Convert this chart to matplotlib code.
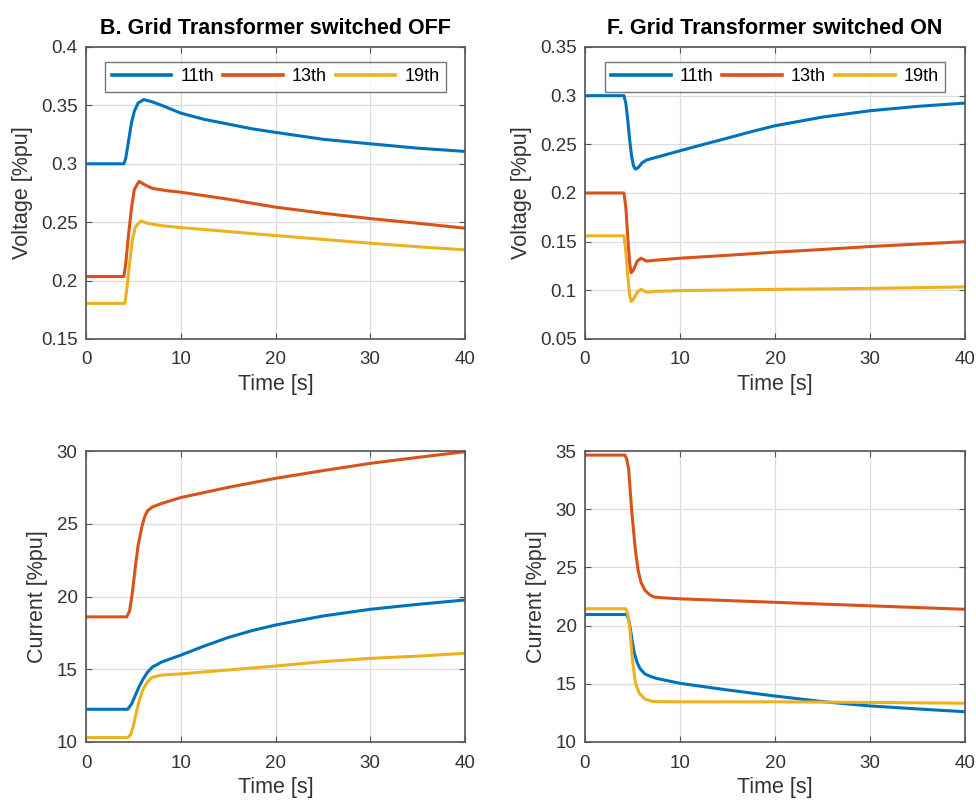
import matplotlib
matplotlib.use("Agg")
import matplotlib.pyplot as plt
from matplotlib.ticker import FuncFormatter, MultipleLocator

plt.rcParams['font.family'] = ['Liberation Sans', 'DejaVu Sans']

C11, C13, C19 = '#0072BD', '#D95319', '#EDB120'
labels = ['11th', '13th', '19th']

# ---- Panel B: voltage, transformer OFF ----
vb_t11 = [0, 4.0, 4.2, 4.5, 4.8, 5.1, 5.5, 6.1, 7, 8, 10, 12.5, 15, 17.5, 20, 25, 30, 35, 40]
vb_v11 = [0.300, 0.300, 0.305, 0.320, 0.335, 0.345, 0.352, 0.355, 0.353, 0.350, 0.3434, 0.338, 0.334, 0.330, 0.3269, 0.321, 0.3171, 0.3134, 0.3106]
vb_t13 = [0, 4.0, 4.2, 4.5, 4.8, 5.1, 5.6, 6.2, 7, 8.5, 10, 15, 20, 25, 30, 35, 40]
vb_v13 = [0.2035, 0.2035, 0.215, 0.240, 0.262, 0.278, 0.285, 0.282, 0.279, 0.277, 0.2757, 0.2697, 0.2629, 0.2577, 0.2531, 0.2491, 0.2449]
vb_t19 = [0, 4.1, 4.3, 4.6, 4.9, 5.2, 5.8, 6.5, 8, 10, 15, 20, 25, 30, 35, 40]
vb_v19 = [0.1805, 0.1805, 0.192, 0.215, 0.235, 0.246, 0.251, 0.249, 0.247, 0.2454, 0.242, 0.2386, 0.2353, 0.232, 0.229, 0.2263]

# ---- Panel F: voltage, transformer ON ----
vf_t11 = [0, 4.1, 4.3, 4.5, 4.7, 4.9, 5.1, 5.3, 5.6, 6.0, 6.5, 8, 10, 12.5, 15, 17.5, 20, 25, 30, 35, 40]
vf_v11 = [0.300, 0.300, 0.292, 0.275, 0.255, 0.238, 0.228, 0.2245, 0.226, 0.231, 0.234, 0.238, 0.2434, 0.250, 0.2564, 0.263, 0.2691, 0.278, 0.2845, 0.289, 0.2924]
vf_t13 = [0, 4.1, 4.3, 4.5, 4.7, 4.85, 5.1, 5.5, 5.9, 6.5, 7.5, 10, 15, 20, 25, 30, 35, 40]
vf_v13 = [0.200, 0.200, 0.185, 0.155, 0.128, 0.118, 0.121, 0.130, 0.133, 0.130, 0.131, 0.133, 0.136, 0.1392, 0.142, 0.145, 0.1475, 0.150]
vf_t19 = [0, 4.1, 4.3, 4.5, 4.7, 4.85, 5.1, 5.5, 5.9, 6.5, 7.5, 10, 20, 30, 40]
vf_v19 = [0.156, 0.156, 0.140, 0.115, 0.095, 0.0885, 0.091, 0.098, 0.101, 0.098, 0.099, 0.0997, 0.101, 0.102, 0.1035]

# ---- Current, transformer OFF ----
cb_t11 = [0, 4.4, 4.8, 5.2, 5.6, 6.0, 6.5, 7.0, 8, 10, 12.5, 15, 17.5, 20, 25, 30, 35, 40]
cb_v11 = [12.25, 12.25, 12.6, 13.2, 13.8, 14.3, 14.8, 15.15, 15.5, 15.97, 16.6, 17.18, 17.65, 18.04, 18.66, 19.12, 19.46, 19.76]
cb_t13 = [0, 4.3, 4.6, 4.9, 5.2, 5.5, 5.9, 6.2, 6.5, 7.0, 8, 10, 15, 20, 25, 30, 35, 40]
cb_v13 = [18.6, 18.6, 19.0, 20.3, 22.0, 23.5, 24.8, 25.5, 25.9, 26.15, 26.4, 26.8, 27.5, 28.12, 28.65, 29.15, 29.56, 29.95]
cb_t19 = [0, 4.4, 4.7, 5.0, 5.3, 5.6, 6.0, 6.5, 7.0, 8, 10, 15, 20, 25, 30, 35, 40]
cb_v19 = [10.3, 10.3, 10.5, 11.1, 12.0, 12.8, 13.6, 14.15, 14.45, 14.6, 14.68, 14.95, 15.22, 15.52, 15.75, 15.9, 16.1]

# ---- Current, transformer ON ----
cf_t11 = [0, 4.4, 4.6, 4.8, 5.0, 5.2, 5.5, 5.8, 6.3, 7.0, 7.5, 10, 15, 20, 25, 30, 35, 40]
cf_v11 = [20.95, 20.95, 20.5, 19.6, 18.5, 17.6, 16.8, 16.3, 15.85, 15.6, 15.47, 15.04, 14.47, 13.95, 13.47, 13.1, 12.84, 12.6]
cf_t13 = [0, 4.2, 4.4, 4.6, 4.9, 5.3, 5.6, 5.9, 6.3, 6.8, 7.3, 8, 10, 20, 30, 40]
cf_v13 = [34.65, 34.65, 34.3, 33.4, 30.0, 26.5, 24.7, 23.7, 23.05, 22.65, 22.45, 22.4, 22.3, 22.0, 21.7, 21.4]
cf_t19 = [0, 4.3, 4.5, 4.7, 5.0, 5.3, 5.7, 6.3, 7.0, 7.5, 10, 20, 30, 40]
cf_v19 = [21.45, 21.45, 21.0, 19.9, 17.0, 15.1, 14.2, 13.7, 13.5, 13.47, 13.45, 13.45, 13.4, 13.33]

titles = ['B. Grid Transformer switched OFF', 'F. Grid Transformer switched ON']

fig = plt.figure(figsize=(9.76, 8.01), dpi=100)
W, H = 976, 801
def mkax(l, t, r, b):
    return fig.add_axes([l / W, 1 - b / H, (r - l) / W, (b - t) / H])

ax_vb = mkax(86, 47, 465, 339)
ax_vf = mkax(585, 47, 965, 339)
ax_cb = mkax(86, 451, 465, 742)
ax_cf = mkax(585, 451, 965, 742)

fmt = FuncFormatter(lambda v, p: '{:g}'.format(round(v, 4)))

def style(ax, ylim, ystep, ylabel):
    ax.set_xlim(0, 40)
    ax.set_ylim(*ylim)
    ax.xaxis.set_major_locator(MultipleLocator(10))
    ax.yaxis.set_major_locator(MultipleLocator(ystep))
    ax.yaxis.set_major_formatter(fmt)
    ax.grid(True, color='#dcdcdc', linewidth=0.9)
    ax.set_axisbelow(True)
    for s in ax.spines.values():
        s.set_color('#555555')
        s.set_linewidth(1.2)
    ax.tick_params(direction='in', top=True, right=True, length=4,
                   colors='#555555', labelcolor='#333333', labelsize=13.5, pad=6)
    ax.tick_params(axis='x', pad=9)
    ax.set_xlabel('Time [s]', fontsize=15.5, color='#333333', labelpad=4)
    ax.set_ylabel(ylabel, fontsize=15.5, color='#333333', labelpad=6)

lw = 2.2
for ax, data in [
    (ax_vb, [(vb_t11, vb_v11), (vb_t13, vb_v13), (vb_t19, vb_v19)]),
    (ax_vf, [(vf_t11, vf_v11), (vf_t13, vf_v13), (vf_t19, vf_v19)]),
    (ax_cb, [(cb_t11, cb_v11), (cb_t13, cb_v13), (cb_t19, cb_v19)]),
    (ax_cf, [(cf_t11, cf_v11), (cf_t13, cf_v13), (cf_t19, cf_v19)]),
]:
    for (t, v), c, lab in zip(data, [C11, C13, C19], labels):
        ax.plot(t, v, color=c, lw=lw, label=lab, solid_joinstyle='round')

style(ax_vb, (0.15, 0.4), 0.05, 'Voltage [%pu]')
style(ax_vf, (0.05, 0.35), 0.05, 'Voltage [%pu]')
style(ax_cb, (10, 30), 5, 'Current [%pu]')
style(ax_cf, (10, 35), 5, 'Current [%pu]')

ax_vb.set_title(titles[0], fontsize=15.5, fontweight='bold', pad=9)
ax_vf.set_title(titles[1], fontsize=15.5, fontweight='bold', pad=9)

for ax in (ax_vb, ax_vf):
    leg = ax.legend(loc='upper center', ncol=3, fontsize=13, frameon=True,
                    fancybox=False, edgecolor='#555555', handlelength=3.3,
                    columnspacing=0.5, handletextpad=0.5, borderpad=0.35,
                    bbox_to_anchor=(0.5, 0.98))
    leg.get_frame().set_linewidth(1.0)
    for h in leg.get_lines():
        h.set_linewidth(2.6)

fig.savefig('out.png', dpi=100)
